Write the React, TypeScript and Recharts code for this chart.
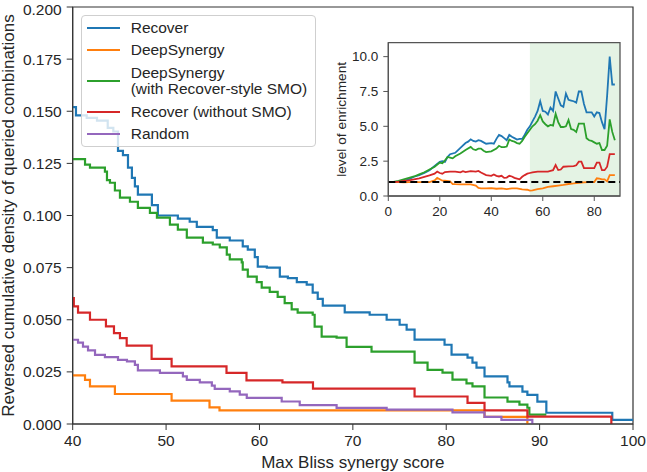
import React from 'react';
import {
  LineChart, Line, XAxis, YAxis, CartesianGrid, Legend, ReferenceArea, ReferenceLine,
} from 'recharts';

// Main panel: reversed cumulative density, [score, density] steps
const recoverCurve = [
  [40, 0.152], [40.35, 0.148], [41.5, 0.1468], [42.6, 0.1455], [43.75, 0.142], [44.35, 0.1403],
  [44.85, 0.131], [45.38, 0.129], [45.92, 0.123], [46.34, 0.118], [46.66, 0.114], [46.98, 0.11],
  [48.48, 0.105], [49.12, 0.1], [51.26, 0.0985], [52.53, 0.097], [53.29, 0.0945], [55.0, 0.093],
  [55.43, 0.0894], [56.82, 0.088], [58.21, 0.0852], [58.75, 0.0836], [59.5, 0.08], [59.82, 0.0755],
  [60.79, 0.075], [62.18, 0.0707], [63.04, 0.07], [64.0, 0.068], [65.06, 0.0668], [65.7, 0.063],
  [66.24, 0.06], [66.78, 0.0568], [69.13, 0.0535], [71.8, 0.0524], [73.62, 0.05], [75.01, 0.0476],
  [75.76, 0.0453], [76.61, 0.0405], [79.82, 0.038], [80.57, 0.0333], [82.28, 0.0318], [82.81, 0.0294],
  [83.24, 0.027], [84.1, 0.0228], [86.56, 0.02], [86.77, 0.018], [88.16, 0.0155], [88.69, 0.014],
  [89.76, 0.0107], [90.72, 0.0054], [97.78, 0.002], [100, 0.002],
];
const deepSynergyCurve = [
  [40, 0.0233], [41.32, 0.0212], [41.85, 0.018], [44.52, 0.0144], [50.59, 0.0112], [54.65, 0.008],
  [55.72, 0.0065], [84.1, 0.0034], [88.69, 0],
];
const deepSynergySmoCurve = [
  [40, 0.127], [41.32, 0.1244], [41.85, 0.123], [43.45, 0.121], [43.67, 0.117], [43.99, 0.1157],
  [44.52, 0.112], [45.06, 0.1086], [46.13, 0.1066], [46.98, 0.1037], [48.27, 0.1013], [49.02, 0.099],
  [50.41, 0.0956], [51.26, 0.0932], [52.22, 0.0894], [53.94, 0.087], [55.0, 0.0861], [55.75, 0.0847],
  [56.5, 0.0812], [56.82, 0.079], [58.1, 0.0775], [58.21, 0.074], [58.75, 0.0707], [59.71, 0.068],
  [60.24, 0.0654], [61.1, 0.0634], [61.95, 0.061], [62.7, 0.058], [63.45, 0.055], [64.09, 0.0534],
  [65.7, 0.0524], [65.91, 0.0467], [66.66, 0.0419], [68.26, 0.0414], [69.33, 0.037], [72.0, 0.0347],
  [76.61, 0.0294], [78.0, 0.026], [79.6, 0.0246], [80.67, 0.0213], [82.17, 0.0195], [82.81, 0.018],
  [84.1, 0.0127], [86.56, 0.0107], [87.84, 0.0093], [88.69, 0.0078], [88.9, 0.0045], [90.72, 0.0045],
];
const recoverNoSmoCurve = [
  [40, 0.0604], [40.12, 0.0564], [40.57, 0.0534], [41.85, 0.05], [43.56, 0.0468], [44.42, 0.0436],
  [45.06, 0.0412], [45.78, 0.0376], [48.45, 0.0312], [50.59, 0.0276], [56.47, 0.0245], [58.61, 0.0209],
  [62.46, 0.02], [65.73, 0.017], [76.61, 0.0132], [82.28, 0.0101], [84.1, 0.0065], [88.69, 0.0035],
  [97.68, 0],
];
const randomCurve = [
  [40, 0.0404], [40.57, 0.039], [41.1, 0.0371], [41.64, 0.0353], [42.39, 0.0332], [43.45, 0.0321],
  [44.85, 0.0308], [45.81, 0.03], [46.66, 0.0284], [46.98, 0.0257], [49.34, 0.0245], [51.8, 0.0228],
  [52.22, 0.0212], [53.61, 0.02], [54.9, 0.0184], [55.21, 0.0168], [56.82, 0.0156], [57.89, 0.0141],
  [58.64, 0.0125], [62.38, 0.0108], [64.31, 0.0091], [68.26, 0.0077], [73.62, 0.0069], [80.67, 0.0056],
  [84.1, 0.0034], [85.91, 0.002], [89.22, 0],
];

// Inset: level of enrichment, [score threshold, enrichment]
const recoverEnrich = [
  [0, 1.0], [2, 1.0], [4, 1.02], [6, 1.08], [8, 1.2], [10, 1.38], [12, 1.5], [14, 1.65], [16, 1.85],
  [18, 2.15], [20, 2.45], [21, 2.5], [22, 2.45], [23, 2.8], [24, 3.0], [26, 3.1], [28, 3.45], [30, 3.8],
  [31, 3.9], [32, 4.07], [33, 3.95], [34, 3.9], [35, 4.0], [36, 3.95], [37, 3.85], [38, 3.75], [40, 3.8],
  [41, 3.75], [42, 4.1], [43, 4.38], [44, 4.3], [45, 4.15], [46, 4.0], [47, 4.38], [48, 4.25], [49, 4.15],
  [50, 4.05], [51, 4.1], [52, 4.1], [53, 4.4], [54, 4.75], [55, 5.0], [56, 5.35], [57, 5.7], [58, 6.1],
  [59, 6.8], [60, 6.1], [61, 6.05], [62, 5.85], [63, 6.35], [64, 6.1], [65, 7.5], [66, 7.0], [67, 6.5],
  [68, 6.4], [69, 7.35], [70, 6.9], [71, 6.85], [72, 6.8], [73, 6.7], [74, 7.5], [75, 7.5], [76, 6.6],
  [77, 6.0], [78, 6.0], [79, 6.0], [80, 5.7], [81, 6.0], [82, 5.95], [83, 5.3], [84, 4.8], [85, 7.2],
  [86, 10.0], [87, 8.0], [88, 8.0],
];
const deepSynergyEnrich = [
  [0, 1.0], [2, 1.0], [4, 1.0], [6, 0.98], [8, 1.0], [10, 1.0], [12, 1.0], [14, 1.0], [16, 1.0],
  [18, 1.12], [19, 1.3], [20, 1.2], [21, 1.1], [22, 1.1], [24, 1.05], [25, 0.86], [26, 0.85], [28, 0.84],
  [30, 0.84], [32, 0.84], [34, 0.75], [35, 0.58], [36, 0.55], [38, 0.55], [40, 0.57], [42, 0.52],
  [44, 0.55], [46, 0.5], [48, 0.55], [50, 0.55], [52, 0.48], [54, 0.45], [55, 0.38], [56, 0.4],
  [58, 0.5], [60, 0.55], [62, 0.65], [64, 0.7], [66, 0.75], [68, 0.8], [70, 0.86], [72, 0.9], [74, 0.95],
  [76, 0.98], [78, 1.0], [80, 1.0], [81, 1.27], [82, 1.25], [83, 1.2], [84, 1.2], [85, 1.05], [86, 1.5],
  [87, 1.5], [88, 1.5],
];
const deepSynergySmoEnrich = [
  [0, 1.0], [2, 1.02], [4, 1.08], [6, 1.2], [8, 1.3], [10, 1.4], [12, 1.55], [14, 1.7], [16, 1.9],
  [18, 2.1], [20, 2.4], [21, 2.35], [22, 2.55], [23, 2.8], [24, 2.75], [25, 2.7], [26, 2.85], [28, 3.05],
  [30, 3.3], [32, 3.52], [33, 3.35], [34, 3.3], [35, 3.4], [36, 3.4], [37, 3.25], [38, 3.15], [40, 3.2],
  [42, 3.4], [43, 3.6], [44, 3.5], [45, 3.5], [46, 3.55], [47, 4.05], [48, 3.95], [49, 3.9], [50, 3.8],
  [51, 3.75], [52, 3.95], [53, 4.25], [54, 4.5], [55, 4.75], [56, 5.0], [57, 5.15], [58, 5.4], [59, 5.8],
  [60, 5.35], [61, 5.15], [62, 5.0], [63, 5.1], [64, 5.05], [65, 5.9], [66, 5.3], [67, 4.95], [68, 4.95],
  [69, 5.0], [70, 5.45], [71, 4.8], [72, 4.75], [73, 4.6], [74, 5.2], [75, 5.2], [76, 5.2], [77, 4.15],
  [78, 4.0], [79, 3.95], [80, 3.85], [81, 3.75], [82, 3.8], [83, 3.3], [84, 3.3], [85, 3.6], [86, 5.5],
  [87, 4.6], [88, 4.0],
];
const recoverNoSmoEnrich = [
  [0, 1.0], [2, 1.0], [4, 1.03], [6, 1.08], [8, 1.12], [10, 1.2], [12, 1.27], [14, 1.38], [16, 1.48],
  [18, 1.6], [19, 1.75], [20, 1.65], [21, 1.6], [22, 1.72], [24, 1.75], [26, 1.75], [28, 1.7], [29, 1.78],
  [30, 1.72], [32, 1.78], [34, 1.75], [35, 1.8], [36, 1.68], [38, 1.5], [40, 1.45], [41, 1.55], [42, 1.45],
  [43, 1.4], [44, 1.45], [45, 1.3], [46, 1.32], [47, 1.45], [48, 1.4], [49, 1.3], [50, 1.25], [51, 1.2],
  [52, 1.38], [53, 1.5], [54, 1.6], [55, 1.65], [56, 1.7], [58, 1.75], [60, 1.75], [62, 1.75], [63, 1.8],
  [64, 1.85], [65, 2.22], [66, 1.86], [67, 1.9], [68, 2.1], [70, 2.12], [72, 2.14], [73, 2.2], [74, 2.46],
  [75, 2.46], [76, 2.0], [77, 2.0], [79, 2.0], [80, 2.0], [81, 2.4], [82, 2.4], [83, 1.85], [84, 1.85],
  [85, 2.1], [86, 3.0], [87, 3.0], [88, 3.0],
];

const seriesNames = ['Recover', 'DeepSynergy', 'DeepSynergy\n(with Recover-style SMO)', 'Recover (without SMO)', 'Random'];
const seriesColors = ['#1f77b4', '#ff7f0e', '#2ca02c', '#d62728', '#9467bd'];

const xTicks = [40, 50, 60, 70, 80, 90, 100];
const yTicks = [0, 0.025, 0.05, 0.075, 0.1, 0.125, 0.15, 0.175, 0.2];
const insetXTicks = [0, 20, 40, 60, 80];
const insetYTicks = [0, 2.5, 5, 7.5, 10];

const toPoints = (pairs: number[][]) => pairs.map(([x, y]) => ({ x, y }));

const mainCurves = [recoverCurve, deepSynergyCurve, deepSynergySmoCurve, recoverNoSmoCurve, randomCurve].map(toPoints);
// inset has no "Random" line
const insetCurves = [recoverEnrich, deepSynergyEnrich, deepSynergySmoEnrich, recoverNoSmoEnrich].map(toPoints);

const FONT = '"Liberation Sans", Arial, Helvetica, sans-serif';
const TEXT = '#262626';
const TICK_SIZE = 15.5;
const LABEL_SIZE = 17;

const renderLegend = () => (
  <div style={{
    boxSizing: 'border-box', width: 235, height: 132, padding: '1px 0 3px 0',
    border: '1px solid #cfcfcf', borderRadius: 4, background: 'rgba(255,255,255,0.8)',
    fontFamily: FONT, fontSize: TICK_SIZE, color: TEXT,
  }}>
    {seriesNames.map((name, i) => (
      <div key={name} style={{ display: 'flex', alignItems: 'center', height: name.includes('\n') ? 40 : 22 }}>
        <div style={{ marginLeft: 5, width: 33, height: 2.2, background: seriesColors[i], flexShrink: 0 }} />
        <div style={{ marginLeft: 11, lineHeight: '16.5px', whiteSpace: 'pre-line' }}>{name}</div>
      </div>
    ))}
  </div>
);

export default function App() {
  return (
    <div style={{ position: 'absolute', left: 0, top: 0, width: 647, height: 472, background: '#fff', fontFamily: FONT }}>
      <LineChart width={647} height={472} margin={{ top: 7, right: 14, bottom: 3, left: 4 }}>
        <XAxis
          type="number" dataKey="x" domain={[40, 100]} ticks={xTicks} allowDataOverflow
          height={45} tickSize={6} tickMargin={5}
          stroke="#333" tick={{ fill: TEXT, fontSize: TICK_SIZE, fontFamily: FONT }}
          label={{ value: 'Max Bliss synergy score', position: 'insideBottom', offset: 1, style: { fill: TEXT, fontSize: LABEL_SIZE, fontFamily: FONT } }}
        />
        <YAxis
          type="number" domain={[0, 0.2]} ticks={yTicks} allowDataOverflow
          width={68.7} tickSize={6} tickMargin={5}
          tickFormatter={(v: number) => v.toFixed(3)}
          stroke="#333" tick={{ fill: TEXT, fontSize: TICK_SIZE, fontFamily: FONT }}
          label={{
            value: 'Reversed cumulative density of queried combinations', angle: -90, position: 'insideLeft', offset: 4,
            style: { textAnchor: 'middle', fill: TEXT, fontSize: LABEL_SIZE, fontFamily: FONT },
          }}
        />
        <ReferenceArea x1={40} x2={100} y1={0} y2={0.2} fill="none" stroke="#333" strokeWidth={1.2} />
        {mainCurves.map((pts, i) => (
          <Line
            key={seriesNames[i]} data={pts} dataKey="y" name={seriesNames[i]} type="stepAfter"
            stroke={seriesColors[i]} strokeWidth={2.2} dot={false} isAnimationActive={false}
          />
        ))}
        <Legend
          content={renderLegend} layout="horizontal" verticalAlign="middle" align="center"
          wrapperStyle={{ left: 80.7, top: 15, width: 235, height: 132 }}
        />
      </LineChart>

      <div style={{ position: 'absolute', left: 325, top: 35, width: 300, height: 192 }}>
        <LineChart width={300} height={192} margin={{ top: 7.7, right: 5, bottom: 2, left: 2 }}>
          <rect x={63.3} y={7.7} width={231.7} height={153.3} fill="#fff" />
          <ReferenceArea x1={55} x2={90} y1={0} y2={11} fill="#2ca02c" fillOpacity={0.13} stroke="none" />
          <CartesianGrid stroke="#e3e3e3" verticalValues={insetXTicks} horizontalValues={insetYTicks} />
          <XAxis
            type="number" dataKey="x" domain={[0, 90]} ticks={insetXTicks} allowDataOverflow
            height={29} tickSize={5} tickMargin={5.5}
            stroke="#555" tick={{ fill: TEXT, fontSize: 13.5, fontFamily: FONT }}
          />
          <YAxis
            type="number" domain={[0, 11]} ticks={insetYTicks} allowDataOverflow
            width={61.3} tickSize={5} tickMargin={5}
            tickFormatter={(v: number) => v.toFixed(1)}
            stroke="#555" tick={{ fill: TEXT, fontSize: 13.5, fontFamily: FONT }}
            label={{
              value: 'level of enrichment', angle: -90, position: 'insideLeft', offset: 14,
              style: { textAnchor: 'middle', fill: TEXT, fontSize: 13.7, fontFamily: FONT },
            }}
          />
          {insetCurves.map((pts, i) => (
            <Line
              key={seriesNames[i]} data={pts} dataKey="y" type="linear"
              stroke={seriesColors[i]} strokeWidth={1.8} dot={false} isAnimationActive={false}
            />
          ))}
          <ReferenceLine y={1} stroke="#000" strokeWidth={2} strokeDasharray="7 4" />
          <ReferenceArea x1={0} x2={90} y1={0} y2={11} fill="none" stroke="#555" strokeWidth={1.3} />
        </LineChart>
      </div>
    </div>
  );
}
